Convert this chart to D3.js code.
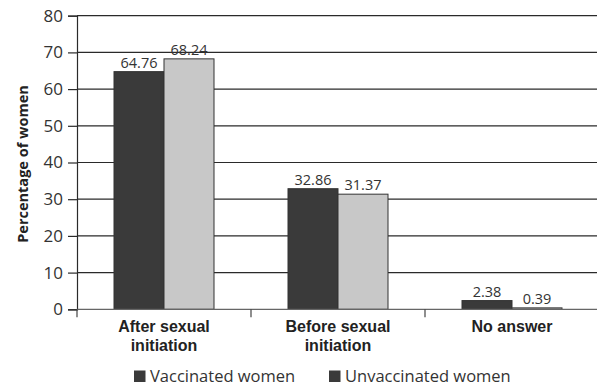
<!DOCTYPE html>
<html>
<head>
<meta charset="utf-8">
<script src="https://cdn.jsdelivr.net/npm/d3@7"></script>
<style>
  html, body { margin: 0; padding: 0; background: #fff; }
  svg { display: block; font-family: "Open Sans", "Noto Sans", sans-serif; }
</style>
</head>
<body>
<svg id="chart" width="597" height="387"></svg>
<script>
// Timing of vaccination relative to sexual initiation
const categories = [["After sexual", "initiation"], ["Before sexual", "initiation"], ["No answer"]];
const seriesNames = ["Vaccinated women", "Unvaccinated women"];
const vaccinated = [64.76, 32.86, 2.38];
const unvaccinated = [68.24, 31.37, 0.39];
const yTicks = [0, 10, 20, 30, 40, 50, 60, 70, 80];

const svg = d3.select("#chart");
const margin = { left: 77, right: -2, top: 15.7, bottom: 77.7 };
const W = 597, H = 387;

const keys = categories.map(c => c.join(" "));
const x = d3.scaleBand().domain(keys).range([margin.left, W - margin.right]).paddingInner(0).paddingOuter(0);
const y = d3.scaleLinear().domain([0, 80]).range([H - margin.bottom, margin.top]);
const inner = d3.scaleBand().domain(seriesNames).range([0, x.bandwidth()]).paddingInner(0).paddingOuter(0.74);

const fills = ["#3a3a3a", "#c8c8c8"];
const ink = "#2a2a2a";

// Horizontal grid lines
svg.append("g")
  .selectAll("line")
  .data(yTicks.filter(t => t > 0))
  .join("line")
  .attr("x1", margin.left).attr("x2", W)
  .attr("y1", d => y(d)).attr("y2", d => y(d))
  .attr("stroke", ink).attr("stroke-width", 1.2);

// Bars
const rows = keys.map((k, i) => ({ key: k, values: [vaccinated[i], unvaccinated[i]] }));
const groups = svg.append("g").selectAll("g").data(rows).join("g")
  .attr("transform", d => `translate(${x(d.key)},0)`);

groups.selectAll("rect")
  .data(d => d.values.map((v, j) => ({ v, j, name: seriesNames[j] })))
  .join("rect")
  .attr("x", d => inner(d.name))
  .attr("width", inner.bandwidth())
  .attr("y", d => y(d.v))
  .attr("height", d => y(0) - y(d.v))
  .attr("fill", d => fills[d.j])
  .attr("stroke", "#333")
  .attr("stroke-width", 1);

groups.selectAll("text")
  .data(d => d.values.map((v, j) => ({ v, j, name: seriesNames[j] })))
  .join("text")
  .attr("x", d => inner(d.name) + inner.bandwidth() / 2)
  .attr("y", d => y(d.v) - 4)
  .attr("text-anchor", "middle")
  .attr("font-size", 14.5)
  .attr("fill", "#333")
  .text(d => d.v.toFixed(2));

// Y axis
const yAxis = svg.append("g")
  .attr("transform", `translate(${margin.left},0)`)
  .call(d3.axisLeft(y).tickValues(yTicks).tickSize(9).tickPadding(5));
yAxis.select(".domain").attr("stroke", ink).attr("stroke-width", 1.2);
yAxis.selectAll(".tick line").attr("stroke", ink).attr("stroke-width", 1.2);
yAxis.selectAll(".tick text").attr("font-size", 17).attr("fill", "#333")
  .attr("font-family", "'Open Sans', sans-serif");

// X axis baseline and boundary ticks
svg.append("line")
  .attr("x1", margin.left).attr("x2", W)
  .attr("y1", y(0)).attr("y2", y(0))
  .attr("stroke", "#666").attr("stroke-width", 1.2);
svg.append("g").selectAll("line")
  .data(keys.map(k => x(k)))
  .join("line")
  .attr("x1", d => d).attr("x2", d => d)
  .attr("y1", y(0)).attr("y2", y(0) + 8)
  .attr("stroke", "#444").attr("stroke-width", 1.2);

// Category labels (two-line, tight leading)
const catText = svg.append("g").selectAll("text").data(categories).join("text")
  .attr("x", (d, i) => x(keys[i]) + x.bandwidth() / 2)
  .attr("y", 332)
  .attr("text-anchor", "middle")
  .attr("font-family", "'Liberation Sans', Arial, sans-serif")
  .attr("font-size", 16)
  .attr("font-weight", "bold")
  .attr("fill", "#222");
catText.selectAll("tspan").data(d => d).join("tspan")
  .attr("x", function () { return d3.select(this.parentNode).attr("x"); })
  .attr("dy", (d, i) => i === 0 ? 0 : 18.6)
  .text(d => d);

// Y axis title
svg.append("text")
  .attr("transform", `translate(28,164) rotate(-90)`)
  .attr("text-anchor", "middle")
  .attr("font-size", 14.5)
  .attr("font-weight", "bold")
  .attr("fill", "#222")
  .text("Percentage of women");

// Legend
const legendX = [134, 329];
const legend = svg.append("g").selectAll("g").data(seriesNames).join("g")
  .attr("transform", (d, i) => `translate(${legendX[i]},370.5)`);
legend.append("rect")
  .attr("width", 11.5).attr("height", 11.5)
  .attr("fill", "#3a3a3a");
legend.append("text")
  .attr("x", 16).attr("y", 11.5)
  .attr("font-size", 16.5)
  .attr("fill", "#333")
  .text(d => d);
</script>
</body>
</html>
